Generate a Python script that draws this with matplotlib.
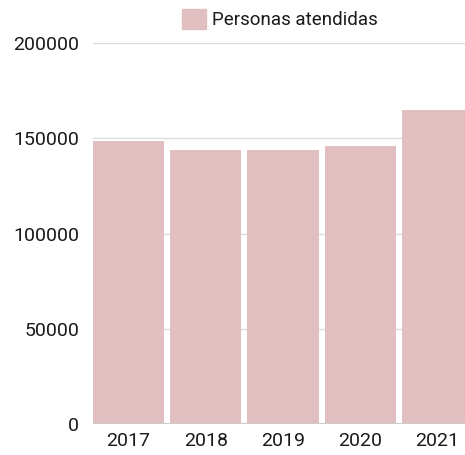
import matplotlib
matplotlib.use("Agg")
import matplotlib.pyplot as plt
from matplotlib.patches import Patch

years = ["2017", "2018", "2019", "2020", "2021"]
personas = [148600, 143800, 143600, 145900, 165000]
yticks = [0, 50000, 100000, 150000, 200000]

plt.rcParams['font.family'] = ['Roboto', 'DejaVu Sans']
color = "#e1bebf"

fig = plt.figure(figsize=(4.65, 4.55), dpi=100)
ax = fig.add_axes([0.2, 0.0681, 0.8, 0.8374])
x = range(len(years))
ax.bar(x, personas, width=0.92, color=color, zorder=2)
ax.set_xlim(-0.46, 4.357)
ax.set_ylim(0, 200000)
ax.set_yticks(yticks)
ax.set_yticklabels([str(v) for v in yticks])
ax.set_xticks(list(x))
ax.set_xticklabels(years)
ax.grid(axis='y', color='#dddddd', linewidth=1, zorder=0)
ax.axhline(0, color='#cccccc', linewidth=1.5, zorder=3)
for s in ax.spines.values():
    s.set_visible(False)
ax.tick_params(axis='both', length=0, labelsize=14, colors='#1a1a1a')
ax.tick_params(axis='y', pad=10)
ax.tick_params(axis='x', pad=6)

fig.legend(handles=[Patch(color=color, label="Personas atendidas")],
           loc='center', bbox_to_anchor=(0.602, 0.958), frameon=False,
           fontsize=13.5, handlelength=1.28, handleheight=1.28, handletextpad=0.35,
           labelcolor='#1a1a1a')
fig.savefig("out.png", dpi=100)
